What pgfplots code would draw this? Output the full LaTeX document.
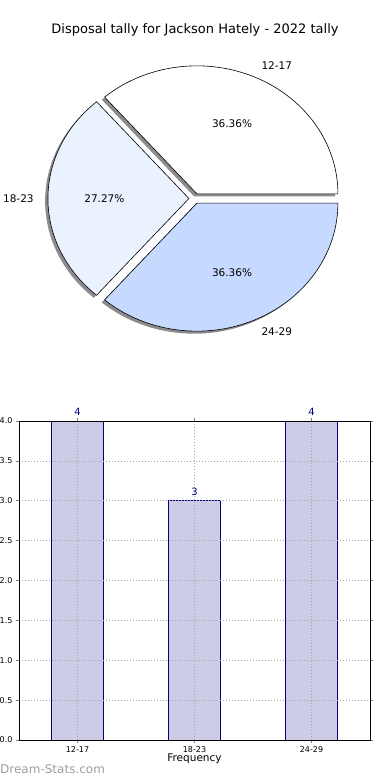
\documentclass[border=0pt]{standalone}
\usepackage{fontspec}
\setmainfont{DejaVu Sans}
\usepackage{pgfplots}
\usepackage{pgfplotstable}
\pgfplotsset{compat=1.18}
\definecolor{pieA}{RGB}{255,255,255}
\definecolor{pieB}{RGB}{235,242,255}
\definecolor{pieC}{RGB}{198,217,255}
\definecolor{barfill}{RGB}{204,204,230}
\definecolor{baredge}{RGB}{0,0,128}
\definecolor{shadowc}{RGB}{140,140,140}

\pgfplotstableread{
label value
12-17 4
18-23 3
24-29 4
}\piedata
\pgfplotstableread{
x value
0 4
1 3
2 4
}\bardata

\newcommand\shadowslice[4]{%
  \addplot[draw=none, fill=shadowc, domain=#1:#2, samples=120, variable=\t]
    ({#3+cos(\t)},{#4+sin(\t)}) -- (axis cs:#3,#4) -- cycle;}
\newcommand\slice[5]{%
  \addplot[draw=black, line width=0.6pt, fill=#5, domain=#1:#2, samples=120, variable=\t]
    ({#3+cos(\t)},{#4+sin(\t)}) -- (axis cs:#3,#4) -- cycle;}

\begin{document}
\begin{tikzpicture}
\path[use as bounding box] (0pt,0pt) rectangle (390pt,780pt);
\node[font=\fontsize{13}{15}\selectfont] at (195pt,750pt) {Disposal tally for Jackson Hately - 2022 tally};

\pgfplotstablegetelem{0}{value}\of\piedata\let\va\pgfplotsretval
\pgfplotstablegetelem{1}{value}\of\piedata\let\vb\pgfplotsretval
\pgfplotstablegetelem{2}{value}\of\piedata\let\vc\pgfplotsretval
\pgfmathsetmacro\tot{\va+\vb+\vc}
\pgfmathsetmacro\eA{360*\va/\tot}
\pgfmathsetmacro\eB{\eA+360*\vb/\tot}
\pgfmathsetmacro\mA{\eA/2}
\pgfmathsetmacro\mB{(\eA+\eB)/2}
\pgfmathsetmacro\mC{(\eB+360)/2}
\pgfmathsetmacro\oxA{0.04*cos(\mA)}\pgfmathsetmacro\oyA{0.04*sin(\mA)}
\pgfmathsetmacro\oxB{0.04*cos(\mB)}\pgfmathsetmacro\oyB{0.04*sin(\mB)}
\pgfmathsetmacro\oxC{0.04*cos(\mC)}\pgfmathsetmacro\oyC{0.04*sin(\mC)}
\pgfmathsetmacro\sxA{\oxA-0.02}\pgfmathsetmacro\syA{\oyA-0.02}
\pgfmathsetmacro\sxB{\oxB-0.02}\pgfmathsetmacro\syB{\oyB-0.02}
\pgfmathsetmacro\sxC{\oxC-0.02}\pgfmathsetmacro\syC{\oyC-0.02}
\pgfmathsetmacro\pxA{\oxA+0.6*cos(\mA)}\pgfmathsetmacro\pyA{\oyA+0.6*sin(\mA)}
\pgfmathsetmacro\pxB{\oxB+0.6*cos(\mB)}\pgfmathsetmacro\pyB{\oyB+0.6*sin(\mB)}
\pgfmathsetmacro\pxC{\oxC+0.6*cos(\mC)}\pgfmathsetmacro\pyC{\oyC+0.6*sin(\mC)}
\pgfmathsetmacro\lxA{\oxA+1.1*cos(\mA)}\pgfmathsetmacro\lyA{\oyA+1.1*sin(\mA)}
\pgfmathsetmacro\lxB{\oxB+1.1*cos(\mB)}\pgfmathsetmacro\lyB{\oyB+1.1*sin(\mB)}
\pgfmathsetmacro\lxC{\oxC+1.1*cos(\mC)}\pgfmathsetmacro\lyC{\oyC+1.1*sin(\mC)}

\begin{axis}[at={(0pt,427.9pt)}, anchor=south west,
  x=141pt, y=128pt, xmin=-1.38, xmax=1.38, ymin=-1.2, ymax=1.2,
  hide axis, clip=false]
\shadowslice{0}{\eA}{\sxA}{\syA}
\shadowslice{\eA}{\eB}{\sxB}{\syB}
\shadowslice{\eB}{360}{\sxC}{\syC}
\slice{0}{\eA}{\oxA}{\oyA}{pieA}
\slice{\eA}{\eB}{\oxB}{\oyB}{pieB}
\slice{\eB}{360}{\oxC}{\oyC}{pieC}
\node[font=\fontsize{10.5}{12}\selectfont] at (axis cs:\pxA,\pyA) {36.36\%};
\node[font=\fontsize{10.5}{12}\selectfont] at (axis cs:\pxB,\pyB) {27.27\%};
\node[font=\fontsize{10.5}{12}\selectfont] at (axis cs:\pxC,\pyC) {36.36\%};
\node[font=\fontsize{10.5}{12}\selectfont, anchor=west, inner sep=0pt] at (axis cs:\lxA,\lyA) {12-17};
\node[font=\fontsize{10.5}{12}\selectfont, anchor=east, inner sep=0pt] at (axis cs:\lxB,\lyB) {18-23};
\node[font=\fontsize{10.5}{12}\selectfont, anchor=west, inner sep=0pt] at (axis cs:\lxC,\lyC) {24-29};
\end{axis}

\begin{axis}[at={(19pt,40pt)}, anchor=south west, scale only axis,
  width=351pt, height=319pt,
  xmin=-0.5, xmax=2.5, ymin=0, ymax=4,
  xtick={0,1,2}, xticklabels={12-17,18-23,24-29},
  ytick distance=0.5,
  yticklabel style={/pgf/number format/.cd, fixed, fixed zerofill, precision=1},
  /pgf/number format/assume math mode=true,
  tick label style={font=\fontsize{8}{9}\selectfont},
  grid=major, grid style={gray!70, line width=0.6pt, dash pattern=on 1pt off 2pt},
  axis on top, clip=false,
  tick align=outside, tick pos=both, major tick length=3pt,
  tick style={gray, line width=0.6pt},
  axis line style={black, line width=0.8pt},
  xlabel={Frequency},
  xlabel style={at={(axis description cs:0.5,0)}, anchor=center, yshift=-19pt, font=\fontsize{10.5}{12}\selectfont},
]
\addplot[ybar, bar width=52pt, fill=barfill, draw=baredge, line width=0.9pt,
  nodes near coords, nodes near coords style={font=\fontsize{10}{11}\selectfont, text=baredge, anchor=center, yshift=9pt}]
  table[x=x, y=value]{\bardata};
\end{axis}

\node[anchor=west, inner sep=0pt, text=black!38, font=\fontsize{12}{13}\selectfont] at (0pt,10.5pt) {Dream-Stats.com};
\end{tikzpicture}
\end{document}
